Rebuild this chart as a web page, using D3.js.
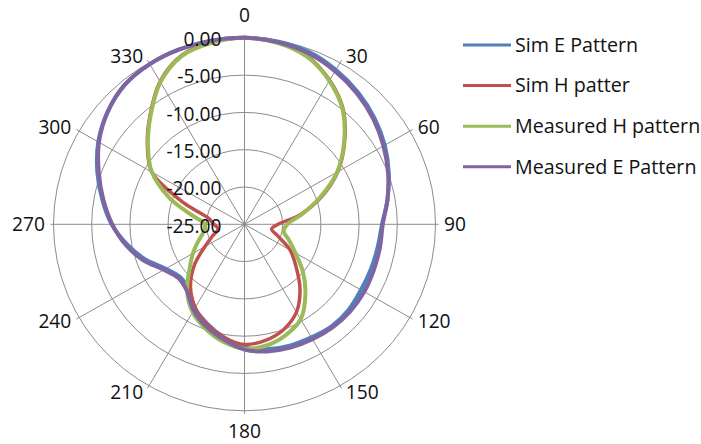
<!DOCTYPE html>
<html><head><meta charset="utf-8">
<script src="https://cdn.jsdelivr.net/npm/d3@7/dist/d3.min.js"></script>
<style>html,body{margin:0;padding:0;background:#fff}svg{display:block}</style>
</head><body>
<svg id="chart" width="701" height="444"></svg>
<script>
// ---- data (dB, every 10 degrees) ----
const angles = d3.range(0, 360, 10);
const simE  = [0,-0.1,-0.4,-1.1,-1.9,-2.8,-3.8,-4.9,-6.0,-7.0,-7.3,-7.4,-7.4,-7.2,-7.2,-7.5,-7.7,-8.0,-8.5,-9.6,-10.8,-12.0,-13.6,-14.0,-13.1,-11.2,-9.4,-7.6,-6.1,-4.5,-2.9,-1.6,-0.6,-0.2,-0.05,0];
const simH  = [0,-0.2,-1.0,-2.7,-4.9,-7.9,-10.9,-14.3,-17.6,-20.6,-21.4,-20.3,-18.1,-16.2,-13.7,-11.4,-10.0,-9.2,-8.9,-9.6,-10.7,-12.1,-14.0,-16.4,-19.0,-20.6,-21.5,-21.0,-20.2,-16.5,-11.0,-8.4,-5.8,-2.9,-0.9,-0.2];
const measH = [0,-0.3,-1.1,-2.8,-5.0,-8.0,-11.0,-14.5,-17.4,-19.4,-19.8,-18.8,-17.3,-15.0,-12.6,-10.3,-9.2,-8.5,-8.3,-9.0,-10.1,-11.4,-13.3,-15.6,-17.2,-18.6,-19.6,-19.8,-18.0,-14.5,-11.0,-8.5,-5.9,-3.0,-1.0,-0.3];
const measE = [0,-0.2,-0.6,-1.3,-2.1,-3.0,-4.0,-5.0,-6.0,-6.9,-7.0,-7.0,-6.9,-6.9,-7.0,-7.2,-7.4,-7.7,-8.2,-9.3,-10.4,-11.7,-13.3,-13.75,-12.8,-10.9,-9.2,-7.7,-6.25,-4.7,-3.0,-1.6,-0.6,-0.2,-0.05,0];
const seriesNames = ["Sim E Pattern", "Sim H patter", "Measured H pattern", "Measured E Pattern"];
const seriesColors = ["#4F81BD", "#C0504D", "#9BBB59", "#8064A2"];
const seriesWidths = [4, 3.5, 4, 4];
const ringTicks = [-25, -20, -15, -10, -5, 0];
const angleTicks = d3.range(0, 360, 30);

// ---- layout ----
const cx = 244.5, cy = 224.3, R = 186.5, kx = 191 / 186.5;
const svg = d3.select("#chart");
const rScale = d3.scaleLinear().domain([-25, 0]).range([0, R]);
const aScale = d3.scaleLinear().domain([0, 360]).range([0, 2 * Math.PI]);
const fmt = d3.formatLocale({decimal: ".", thousands: ",", grouping: [3], currency: ["", ""], minus: "-"}).format(".2f");
const font = "'Open Sans', 'Liberation Sans', sans-serif";
const textColor = "#111111";
const axisFontSize = 19.2, legendFontSize = 19.7;

const plot = svg.append("g").attr("transform", `translate(${cx},${cy}) scale(${kx},1)`);

// rings
plot.selectAll("circle.ring").data(ringTicks.filter(v => v > -25)).join("circle")
  .attr("class", "ring").attr("r", d => rScale(d))
  .attr("fill", "none").attr("stroke", "#8c8c8c").attr("stroke-width", 1)
  .attr("vector-effect", "non-scaling-stroke");

// spokes
plot.selectAll("line.spoke").data(angleTicks).join("line")
  .attr("class", "spoke")
  .attr("x1", 0).attr("y1", 0)
  .attr("x2", d => (R + 3) * Math.sin(aScale(d)))
  .attr("y2", d => -(R + 3) * Math.cos(aScale(d)))
  .attr("stroke", "#8c8c8c").attr("stroke-width", 1)
  .attr("vector-effect", "non-scaling-stroke");

// series
const series = [simE, simH, measH, measE];
const lineGen = d3.lineRadial()
  .angle(d => aScale(d[0]))
  .radius(d => rScale(Math.max(-25, d[1])))
  .curve(d3.curveCatmullRomClosed.alpha(0.5));
series.forEach((vals, i) => {
  plot.append("path")
    .datum(angles.map((ang, j) => [ang, vals[j]]))
    .attr("d", lineGen)
    .attr("fill", "none")
    .attr("stroke", seriesColors[i])
    .attr("stroke-width", seriesWidths[i])
    .attr("stroke-linejoin", "round")
    .attr("vector-effect", "non-scaling-stroke");
});

// ring labels
svg.append("g").selectAll("text").data(ringTicks).join("text")
  .attr("x", cx - 23)
  .attr("y", d => cy - rScale(d) + 1.5)
  .attr("dy", "0.35em")
  .attr("text-anchor", "end")
  .attr("font-family", font).attr("font-size", axisFontSize)
  .attr("fill", textColor)
  .text(d => fmt(d));

// angle labels
const aLab = svg.append("g");
angleTicks.forEach(deg => {
  const t = aScale(deg), s = Math.sin(t), c = Math.cos(t);
  const px = cx + kx * R * s, py = cy - R * c;
  const txt = aLab.append("text")
    .attr("text-anchor", "middle").attr("dy", "0.35em")
    .attr("font-family", font).attr("font-size", axisFontSize)
    .attr("fill", textColor).text(String(deg));
  const w = txt.node().getComputedTextLength();
  const ox = Math.abs(s) < 1e-6 ? 0 : Math.sign(s) * (w / 2 + 3 + 5.5 * Math.abs(s));
  const oy = Math.abs(c) > 0.999 ? (c > 0 ? -23 : 20.5) : -c * 8;
  txt.attr("x", px + ox).attr("y", py + oy);
});

// legend
const leg = svg.append("g");
seriesNames.forEach((name, i) => {
  const y = 45 + i * 40.6;
  leg.append("line").attr("x1", 463).attr("x2", 511).attr("y1", y).attr("y2", y)
    .attr("stroke", seriesColors[i]).attr("stroke-width", 3);
  leg.append("text").attr("x", 515).attr("y", y).attr("dy", "0.35em")
    .attr("font-family", font).attr("font-size", legendFontSize)
    .attr("fill", textColor).text(name);
});
</script>
</body></html>
